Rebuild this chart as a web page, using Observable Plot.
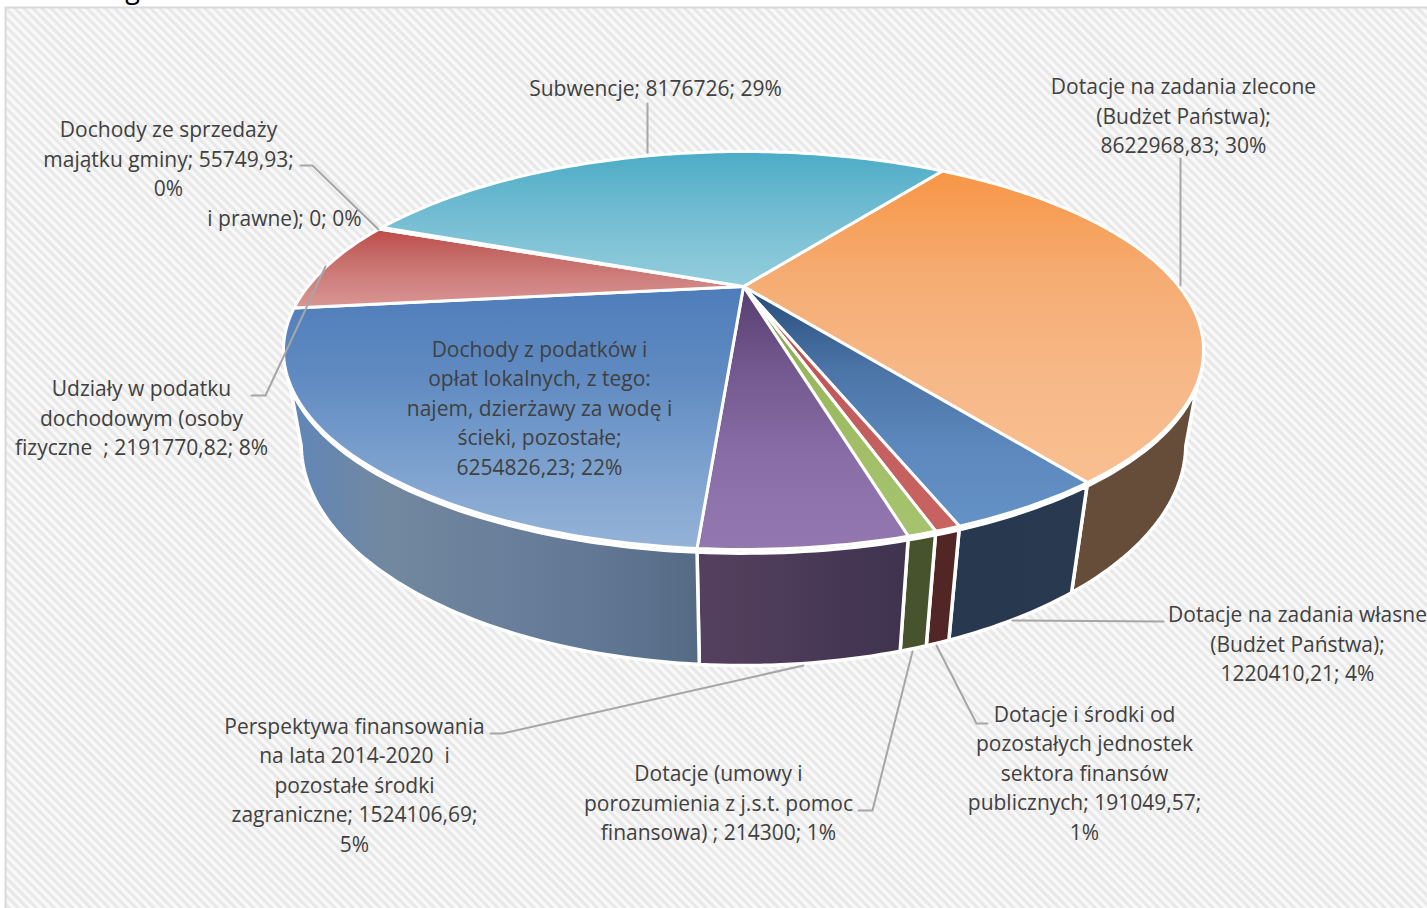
<!DOCTYPE html>
<html lang="pl">
<head>
<meta charset="utf-8">
<script src="https://cdn.jsdelivr.net/npm/d3@7"></script>
<script src="https://cdn.jsdelivr.net/npm/@observablehq/plot@0.6"></script>
<style>html,body{margin:0;padding:0;background:#fff}svg{display:block}</style>
</head>
<body>
<div id="chart"></div>
<script>
// --- values, clockwise from the orange slice ---
const categories = [
  "Dotacje na zadania zlecone (Budżet Państwa)",
  "Dotacje na zadania własne (Budżet Państwa)",
  "Dotacje i środki od pozostałych jednostek sektora finansów publicznych",
  "Dotacje (umowy i porozumienia z j.s.t. pomoc finansowa)",
  "Perspektywa finansowania na lata 2014-2020 i pozostałe środki zagraniczne",
  "Dochody z podatków i opłat lokalnych",
  "Udziały w podatku dochodowym",
  "Dochody ze sprzedaży majątku gminy",
  "Udziały (osoby prawne)",
  "Subwencje"
];
const values = [8622968.83, 1220410.21, 191049.57, 214300, 1524106.69, 6254826.23, 2191770.82, 55749.93, 0, 8176726];

// --- slice labels as printed ---
const labelTexts = [
  "Dotacje na zadania zlecone\n(Budżet Państwa);\n8622968,83; 30%",
  "Dotacje na zadania własne\n(Budżet Państwa);\n1220410,21; 4%",
  "Dotacje i środki od\npozostałych jednostek\nsektora finansów\npublicznych; 191049,57;\n1%",
  "Dotacje (umowy i\nporozumienia z j.s.t. pomoc\nfinansowa) ; 214300; 1%",
  "Perspektywa finansowania\nna lata 2014-2020  i\npozostałe środki\nzagraniczne; 1524106,69;\n5%",
  "Dochody z podatków i\nopłat lokalnych, z tego:\nnajem, dzierżawy za wodę i\nścieki, pozostałe;\n6254826,23; 22%",
  "Udziały w podatku\ndochodowym (osoby\nfizyczne  ; 2191770,82; 8%",
  "Dochody ze sprzedaży\nmajątku gminy; 55749,93;\n0%",
  "i prawne); 0; 0%",
  "Subwencje; 8176726; 29%"
];
const titleRemnant = ["g"];

// --- palette ---
const topStops = [
  ["#F79646","#F5AC72","#F7B888","#F9BF90"],
  ["#274B78","#4A73A6","#5C88BD","#6592C6"],
  ["#B04A47","#C0575A","#C46060","#C8635F"],
  ["#76963F","#98B75C","#A2BF68","#A6C36E"],
  ["#573E70","#745A90","#8A6EA8","#9378B0"],
  ["#4F7DBA","#5F8AC1","#7BA0CE","#95B3D7"],
  ["#BE4B48","#C66A67","#D08280","#D99694"],
  ["#ffffff","#ffffff"],
  ["#ffffff","#ffffff"],
  ["#4BACC6","#68B8CF","#80C3D6","#92CDDC"]
];
const wallStops = [
  ["#654D3A","#654D3A"],["#27384F","#29394F"],["#532626","#532626"],["#47532D","#47532D"],
  ["#55415F","#3F3350"],["#5F86BA","#72889F","#6A809B","#627794","#556B84"],["#7a3533","#7a3533"],["#fff","#fff"],["#fff","#fff"],["#31859C","#31859C"]
];

// --- layout of the labels and leader lines (separate from the values) ---
const labelX = [1183,1297,1084,718,354,539,141,168,284,655];
const labelY = [114,642,771,801,783,406,416,157,216,86];
const leaders = [
  [[1180,158],[1180,285]],
  [[1012,620],[1163,621]],
  [[936,645],[976,723],[987,723]],
  [[912,651],[872,810],[858,810]],
  [[803,665],[502,733],[490,733]],
  [[251,395],[265,395],[325,266]],
  [[300,165],[312,165],[378,229]],
  [[647,103],[647,152]]
];

// --- pie geometry: a tilted disc seen in perspective ---
const cx = 743, cy = 286, k = 0.3216, A = 178.4, B = 435.6, D = 92.4, C = 0.036, wallTop = 0.03;
const startAngle = 35.2, visibleFrom = 108.5, visibleTo = 251.5;
function project(deg, r, h) {
  const t = deg * Math.PI / 180, u = r * Math.sin(t), v = -r * Math.cos(t), w = 1 - k * v + C * h;
  return {x: cx + B * u / w, y: cy + (A * v + D * h) / w};
}
function arc(a0, a1, h) {
  const n = Math.max(2, Math.ceil(Math.abs(a1 - a0)));
  return d3.range(n + 1).map(i => project(a0 + (a1 - a0) * i / n, 1, h));
}
const total = d3.sum(values);
let running = startAngle;
const slices = values.map((v, i) => {
  const a0 = running, a1 = running + v / total * 360;
  running = a1;
  return {i, a0, a1};
});

const defsMark = () => {
  const defs = d3.create("svg:defs");
  const hatch = defs.append("pattern").attr("id", "hatch").attr("patternUnits", "userSpaceOnUse")
    .attr("width", 6.4).attr("height", 6.4).attr("patternTransform", "rotate(45)");
  hatch.append("rect").attr("width", 6.4).attr("height", 6.4).attr("fill", "#F9F9F9");
  hatch.append("rect").attr("width", 6.4).attr("height", 3.6).attr("fill", "#F0F0F0");
  hatch.append("rect").attr("y", 0.7).attr("width", 6.4).attr("height", 2.2).attr("fill", "#E7E7E7");
  values.forEach((_, i) => {
    const g = defs.append("linearGradient").attr("id", "top" + i).attr("x1", 0).attr("x2", 0).attr("y1", 0).attr("y2", 1);
    topStops[i].forEach((c, j, all) => g.append("stop").attr("offset", j / (all.length - 1)).attr("stop-color", c));
    const h = defs.append("linearGradient").attr("id", "wall" + i).attr("x1", 0).attr("x2", 1).attr("y1", 0).attr("y2", 0);
    wallStops[i].forEach((c, j, all) => h.append("stop").attr("offset", j / (all.length - 1)).attr("stop-color", c));
  });
  return defs.node();
};

const wallMarks = slices.flatMap(({i, a0, a1}) => {
  // walls only exist on the near side of the disc
  const s = Math.max(a0, visibleFrom), e = Math.min(a1, visibleTo);
  if (e <= s) return [];
  const pts = [...arc(s, e, wallTop), ...arc(e, s, 1)];
  pts.push(pts[0]);
  return [Plot.line(pts, {x: "x", y: "y", fill: `url(#wall${i})`, stroke: "#fff", strokeWidth: 3.5, strokeLinejoin: "round"})];
});

const topMarks = slices.filter(d => d.a1 > d.a0).map(({i, a0, a1}) => {
  const apex = project(0, 0, 0);
  const pts = [apex, ...arc(a0, a1, 0), apex];
  return Plot.line(pts, {x: "x", y: "y", fill: `url(#top${i})`, stroke: "#fff", strokeWidth: 3, strokeLinejoin: "round"});
});

const leaderRows = leaders.flatMap((l, id) => l.map(([x, y]) => ({id, x, y})));
const labelRows = labelTexts.map((text, i) => ({text, x: labelX[i], y: labelY[i]}));

const chart = Plot.plot({
  width: 1427,
  height: 908,
  margin: 0,
  x: {domain: [0, 1427], range: [0, 1427], axis: null},
  y: {domain: [0, 908], range: [0, 908], axis: null},
  style: {background: "#fff", fontFamily: "'Open Sans', sans-serif"},
  marks: [
    defsMark,
    Plot.frame({fill: "url(#hatch)", stroke: "#D9D9D9", strokeWidth: 2, insetLeft: 5, insetTop: 7, insetRight: -4, insetBottom: -4}),
    ...wallMarks,
    ...topMarks,
    Plot.line(leaderRows, {x: "x", y: "y", z: "id", stroke: "#A6A6A6", strokeWidth: 2}),
    Plot.text(labelRows, {x: "x", y: "y", text: "text", fill: "#404040", fontSize: 21, lineHeight: 1.405, lineAnchor: "middle", textAnchor: "middle"}),
    Plot.text(titleRemnant, {x: () => 132, y: () => -3, text: d => d, fill: "#000", fontSize: 27, lineAnchor: "bottom"})
  ]
});
document.getElementById("chart").append(chart);
</script>
</body>
</html>
